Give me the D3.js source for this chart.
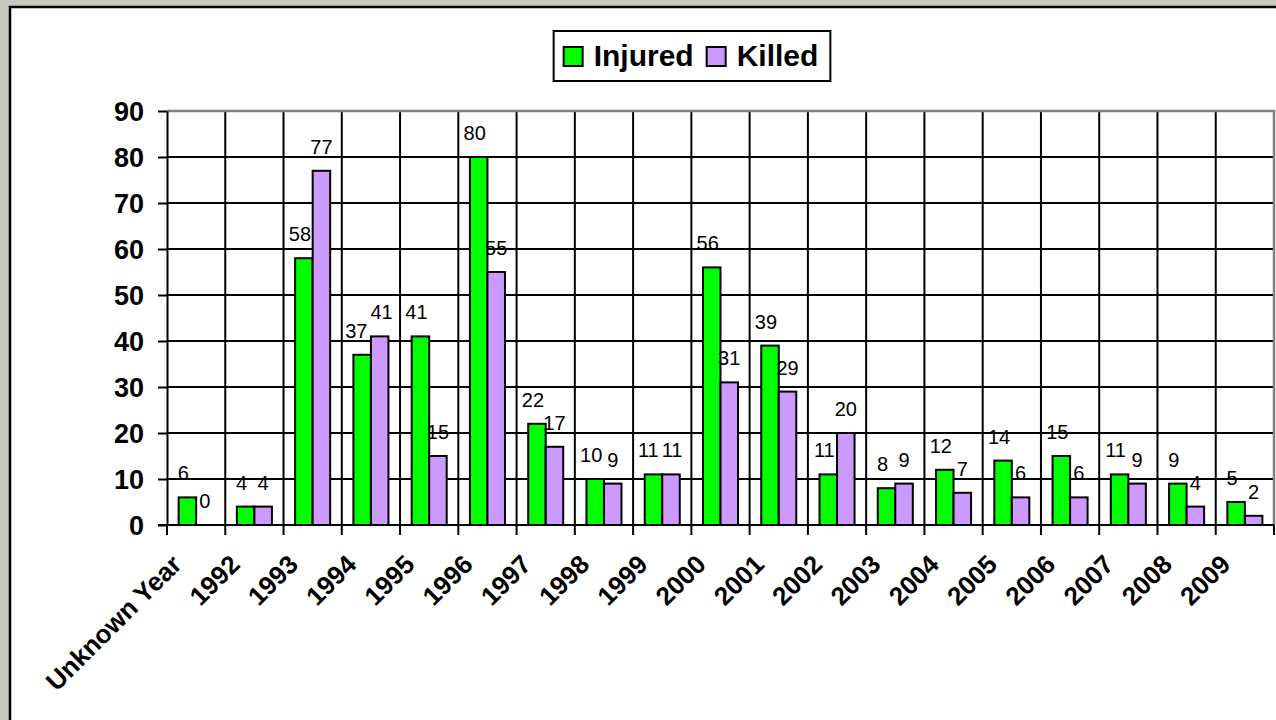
<!DOCTYPE html>
<html>
<head>
<meta charset="utf-8">
<script src="https://cdn.jsdelivr.net/npm/d3@7"></script>
<style>
  body { margin: 0; background: #c9c9c1; }
  svg { display: block; }
</style>
</head>
<body>
<svg id="chart" width="1276" height="720"></svg>
<script>
// chart data
var categories = ["Unknown Year", "1992", "1993", "1994", "1995", "1996", "1997", "1998", "1999",
  "2000", "2001", "2002", "2003", "2004", "2005", "2006", "2007", "2008", "2009"];
var injured = [6, 4, 58, 37, 41, 80, 22, 10, 11, 56, 39, 11, 8, 12, 14, 15, 11, 9, 5];
var killed = [0, 4, 77, 41, 15, 55, 17, 9, 11, 31, 29, 20, 9, 7, 6, 6, 9, 4, 2];
var seriesNames = ["Injured", "Killed"];
var seriesColors = ["#00ff00", "#cc99ff"];
var yTicks = [0, 10, 20, 30, 40, 50, 60, 70, 80, 90];

var plot = { left: 167, right: 1274, top: 111, bottom: 525 };
var fontFam = "Arial, 'Liberation Sans', sans-serif";

var svg = d3.select("#chart");

// white panel
svg.append("rect")
  .attr("x", 10).attr("y", 7)
  .attr("width", 1276).attr("height", 720)
  .attr("fill", "#fff")
  .attr("stroke", "#000")
  .attr("stroke-width", 2.5);

var x = d3.scaleBand()
  .domain(categories)
  .range([plot.left, plot.right])
  .padding(0);

var xs = d3.scaleBand()
  .domain(seriesNames)
  .range([0, x.bandwidth()])
  .paddingInner(0)
  .paddingOuter(0.663);

var y = d3.scaleLinear()
  .domain([0, 90])
  .range([plot.bottom, plot.top]);

var g = svg.append("g");

// horizontal gridlines
g.selectAll(".hgrid")
  .data(yTicks.filter(function(d) { return d > 0 && d < 90; }))
  .enter().append("line")
    .attr("x1", plot.left).attr("x2", plot.right)
    .attr("y1", function(d) { return y(d); })
    .attr("y2", function(d) { return y(d); })
    .attr("stroke", "#000").attr("stroke-width", 2);

// vertical gridlines at category boundaries
g.selectAll(".vgrid")
  .data(categories.slice(1))
  .enter().append("line")
    .attr("x1", function(d) { return x(d); })
    .attr("x2", function(d) { return x(d); })
    .attr("y1", plot.top).attr("y2", plot.bottom)
    .attr("stroke", "#000").attr("stroke-width", 2);

// plot area border (grey top and right)
g.append("path")
  .attr("d", "M" + plot.left + "," + plot.top + "H" + plot.right + "V" + plot.bottom)
  .attr("fill", "none")
  .attr("stroke", "#808080")
  .attr("stroke-width", 2.5);

// bars
var rows = categories.map(function(c, i) {
  return { cat: c, values: [injured[i], killed[i]] };
});

var groups = g.selectAll(".grp")
  .data(rows)
  .enter().append("g")
    .attr("transform", function(d) { return "translate(" + x(d.cat) + ",0)"; });

groups.selectAll("rect")
  .data(function(d) {
    return d.values.map(function(v, k) { return { name: seriesNames[k], v: v, k: k }; })
      .filter(function(e) { return e.v > 0; });
  })
  .enter().append("rect")
    .attr("x", function(d) { return xs(d.name); })
    .attr("y", function(d) { return y(d.v); })
    .attr("width", xs.bandwidth())
    .attr("height", function(d) { return y(0) - y(d.v); })
    .attr("fill", function(d) { return seriesColors[d.k]; })
    .attr("stroke", "#000")
    .attr("stroke-width", 2);

// data labels
groups.each(function(d) {
  var grp = d3.select(this);
  var labels = d.values.map(function(v, k) {
    var t = grp.append("text")
      .attr("x", xs(seriesNames[k]) + xs.bandwidth() / 2 - (k === 0 ? 4 : 0))
      .attr("y", y(v) - 17)
      .attr("text-anchor", "middle")
      .style("font-family", fontFam)
      .style("font-size", "20px")
      .attr("fill", "#000")
      .text(v);
    return t;
  });
  // push the two labels apart when they collide
  var a = labels[0].node().getBBox(), b = labels[1].node().getBBox();
  var overlapX = a.x + a.width + 3 - b.x;
  var overlapY = Math.min(a.y + a.height, b.y + b.height) - Math.max(a.y, b.y);
  if (overlapX > 0 && overlapY > 0) {
    labels[0].attr("x", +labels[0].attr("x") - overlapX / 2);
    labels[1].attr("x", +labels[1].attr("x") + overlapX / 2);
  }
});

// y axis
var yAxis = g.append("g")
  .attr("transform", "translate(" + plot.left + ",0)")
  .call(d3.axisLeft(y).tickValues(yTicks).tickSize(9).tickSizeOuter(0).tickPadding(14));
yAxis.select(".domain").attr("stroke", "#000").attr("stroke-width", 2);
yAxis.selectAll(".tick line").attr("stroke", "#000").attr("stroke-width", 2);
yAxis.selectAll(".tick text")
  .attr("dy", "0.36em")
  .style("font-family", fontFam)
  .style("font-size", "27px")
  .style("font-weight", "bold")
  .attr("fill", "#000");

// x axis line and ticks at boundaries
g.append("line")
  .attr("x1", plot.left - 9).attr("x2", plot.right)
  .attr("y1", plot.bottom).attr("y2", plot.bottom)
  .attr("stroke", "#000").attr("stroke-width", 2);

var bounds = categories.map(function(c) { return x(c); }).concat([plot.right]);
g.selectAll(".xtick")
  .data(bounds)
  .enter().append("line")
    .attr("x1", function(d) { return d; })
    .attr("x2", function(d) { return d; })
    .attr("y1", plot.bottom).attr("y2", plot.bottom + 10)
    .attr("stroke", "#000").attr("stroke-width", 2);

// x labels, rotated
g.selectAll(".xlabel")
  .data(categories)
  .enter().append("text")
    .attr("transform", function(d) {
      return "translate(" + (x(d) + x.bandwidth() / 2 - 13) + "," + (plot.bottom + 41) + ") rotate(-45)";
    })
    .attr("text-anchor", "end")
    .style("font-family", fontFam)
    .style("font-size", "26px")
    .style("font-weight", "bold")
    .attr("fill", "#000")
    .text(function(d) { return d; });

// legend
var legend = svg.append("g");
var lx = 0;
seriesNames.forEach(function(name, i) {
  legend.append("rect")
    .attr("x", lx).attr("y", 0)
    .attr("width", 19).attr("height", 19)
    .attr("fill", seriesColors[i])
    .attr("stroke", "#000").attr("stroke-width", 2);
  var t = legend.append("text")
    .attr("x", lx + 30).attr("y", 19)
    .style("font-family", fontFam)
    .style("font-size", "30px")
    .style("font-weight", "bold")
    .attr("fill", "#000")
    .text(name);
  lx += 30 + t.node().getComputedTextLength() + 13;
});
var legW = lx - 13;
var boxW = legW + 22, boxH = 50;
var boxX = 692 - boxW / 2, boxY = 31;
legend.insert("rect", ":first-child")
  .attr("x", -10).attr("y", -16)
  .attr("width", boxW).attr("height", boxH)
  .attr("fill", "#fff")
  .attr("stroke", "#000").attr("stroke-width", 2);
legend.attr("transform", "translate(" + (boxX + 10) + "," + (boxY + 16) + ")");
</script>
</body>
</html>
